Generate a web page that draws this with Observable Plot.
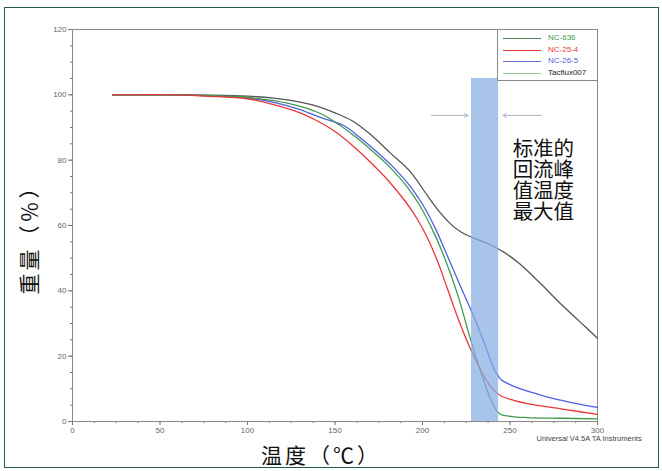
<!DOCTYPE html>
<html><head><meta charset="utf-8">
<script src="https://cdn.jsdelivr.net/npm/d3@7"></script>
<script src="https://cdn.jsdelivr.net/npm/@observablehq/plot@0.6"></script>
<style>
body{margin:0;background:#fff;}
#wrap{position:relative;width:662px;height:471px;overflow:hidden;}
#border{position:absolute;left:4px;top:7px;width:655px;height:461px;border:1.5px solid #1f5f4a;box-sizing:border-box;pointer-events:none;}
#legend{position:absolute;left:497px;top:29px;width:101px;height:52px;border:1px solid #8a8a8a;box-sizing:border-box;background:#fff;font-family:"Liberation Sans",Arial,sans-serif;font-size:8px;}
.row{position:absolute;left:5px;height:10px;width:95px;}
.row .ln{position:absolute;left:0;top:5px;width:38px;border-top:1.2px solid;}
.row .tx{position:absolute;left:45px;top:0;line-height:10px;white-space:nowrap;}
</style></head><body><div id="wrap"><div id="border"></div></div>
<script>
const seriesNames = ["NC-636","NC-25-4","NC-26-5","Tacflux007"];
const seriesColors = ["#3f9a4c","#e8383a","#4f5fe2","#555555"];
const legendLineColors = ["#4f7f5a","#e8383a","#6a70e2","#93c99c"];
const legendTextColors = ["#3f9a4c","#e8383a","#4f5fe2","#222222"];

// NC-636 (green)
const tGreen = [23, 60, 75, 100, 115, 130, 142, 153, 162, 172, 182, 191, 198, 205, 212, 220, 227, 235, 240, 244, 250, 260, 280, 300];
const wGreen = [100, 100, 99.8, 99.2, 98.2, 96.5, 94.2, 90.6, 87, 82.5, 77.5, 72, 66.5, 59.5, 51, 39, 26, 12.5, 5.5, 2.4, 1.6, 1.2, 1.0, 0.8];
// NC-25-4 (red)
const tRed = [23, 60, 75, 100, 115, 130, 140, 150, 160, 170, 180, 190, 197, 203, 209, 214, 220, 227, 235, 240, 245, 252, 260, 280, 300];
const wRed = [100, 100, 99.6, 98.8, 97, 94.5, 92, 88.8, 84.5, 79.5, 74, 67.5, 62, 56, 48.5, 41, 32, 22.7, 14, 10, 7.8, 6.5, 5.5, 3.8, 2.2];
// NC-26-5 (blue)
const tBlue = [23, 60, 75, 100, 115, 130, 142, 155, 164, 174, 184, 193, 200, 207, 214, 222, 229, 236, 241, 245, 250, 256, 265, 275, 288, 300];
const wBlue = [100, 100, 99.8, 99, 97.7, 95.5, 93, 90.6, 87, 82.5, 77.5, 72, 66.5, 59.5, 51, 41, 32.5, 23, 16, 12.8, 11.3, 10, 8.5, 7, 5.5, 4.3];
// Tacflux007 (black)
const tBlack = [23, 50, 75, 100, 115, 130, 140, 150, 160, 170, 182, 193, 203, 210, 216, 222, 229, 237, 246, 255, 266, 280, 290, 300];
const wBlack = [100, 100, 99.9, 99.6, 99, 97.8, 96.5, 94.5, 92, 88, 82, 76.5, 69, 64, 60.5, 58, 56.2, 54.5, 52, 48.5, 43, 35.5, 30.5, 25.5];

const xTicks = [0, 50, 100, 150, 200, 250, 300];
const xMinor = d3.range(0, 300.1, 12.5);
const yTicks = [0, 20, 40, 60, 80, 100, 120];
const yMinor = d3.range(0, 120.1, 5);

const bandX = [228, 243.5];
const bandTop = [105];
const arrowY = 93.7;
const arrowFrom = [205, 268];
const arrowTo = [226, 246];
const annotLines = ["标准的", "回流峰", "值温度", "最大值"];
const annotPos = [251.5, 85.6];
const xLabel = ["温度（℃）"];
const yLabel = ["重量（％）"];
const footer = ["Universal V4.5A TA Instruments"];

const tSeries = [tGreen, tRed, tBlue, tBlack];
const wSeries = [wGreen, wRed, wBlue, wBlack];
const rows = [];
seriesNames.forEach((name, i) => tSeries[i].forEach((t, j) => rows.push({name, t, w: wSeries[i][j]})));
const drawOrder = ["Tacflux007", "NC-26-5", "NC-636", "NC-25-4"];

const cjk = "'Noto Sans CJK SC', sans-serif";
const lineStep = 21;

const chart = Plot.plot({
  width: 662, height: 471,
  marginLeft: 72, marginRight: 65, marginTop: 29, marginBottom: 50,
  style: {fontFamily: "'Liberation Sans', Arial, sans-serif", fontSize: "8px", color: "#555", background: "transparent", overflow: "visible"},
  x: {domain: [0, 300]},
  y: {domain: [0, 120]},
  color: {domain: seriesNames, range: seriesColors},
  marks: [
    Plot.axisX({ticks: xMinor, tickSize: 2, text: null, stroke: "#777"}),
    Plot.axisX({ticks: xTicks, tickSize: 4, tickPadding: 2, stroke: "#777", label: null, fill: "#666"}),
    Plot.axisY({ticks: yMinor, tickSize: 2, text: null, stroke: "#777"}),
    Plot.axisY({ticks: yTicks, tickSize: 4, tickPadding: 2, stroke: "#777", label: null, fill: "#666"}),
    Plot.frame({stroke: "#8a8a8a"}),
    ...drawOrder.map(n => Plot.line(rows.filter(r => r.name === n), {x: "t", y: "w", stroke: "name", strokeWidth: 1.3, curve: "catmull-rom"})),
    Plot.rect([{x1: bandX[0], x2: bandX[1], y1: 0, y2: bandTop[0]}], {x1: "x1", x2: "x2", y1: "y1", y2: "y2", fill: "#86ade2", fillOpacity: 0.72}),
    Plot.arrow(arrowFrom.map((f, i) => ({x1: f, x2: arrowTo[i], y: arrowY})), {x1: "x1", x2: "x2", y1: "y", y2: "y", stroke: "#aab6c4", strokeWidth: 1, headLength: 6}),
    ...annotLines.map((s, i) => Plot.text([s], {x: annotPos[0], y: annotPos[1], text: d => d, textAnchor: "start", lineAnchor: "top", dy: i * lineStep, fontSize: 20.5, fill: "#111", fontFamily: cjk})),
    Plot.text(xLabel, {frameAnchor: "bottom", text: d => d, textAnchor: "middle", dy: 41, dx: -14, fontSize: 21, fill: "#111", fontFamily: cjk, className: "xlab"}),
    Plot.text(yLabel, {frameAnchor: "left", text: d => d, textAnchor: "middle", dx: -42, dy: 9, rotate: -90, fontSize: 21, fill: "#111", fontFamily: cjk, className: "ylab"}),
    Plot.text(footer, {frameAnchor: "bottom-right", text: d => d, textAnchor: "start", dx: -61, dy: 19, fontSize: 7.5, fill: "#444"})
  ]
});
d3.select(chart).selectAll(".xlab text, .ylab text").style("letter-spacing", "3px");
const wrap = document.getElementById("wrap");
wrap.insertBefore(chart, wrap.firstChild);

const legend = document.createElement("div");
legend.id = "legend";
seriesNames.forEach((n, i) => {
  const r = document.createElement("div");
  r.className = "row";
  r.style.top = (3 + i * 11.5) + "px";
  r.innerHTML = `<div class="ln" style="border-color:${legendLineColors[i]}"></div><div class="tx" style="color:${legendTextColors[i]}">${n}</div>`;
  legend.appendChild(r);
});
wrap.appendChild(legend);
</script>
</body></html>
